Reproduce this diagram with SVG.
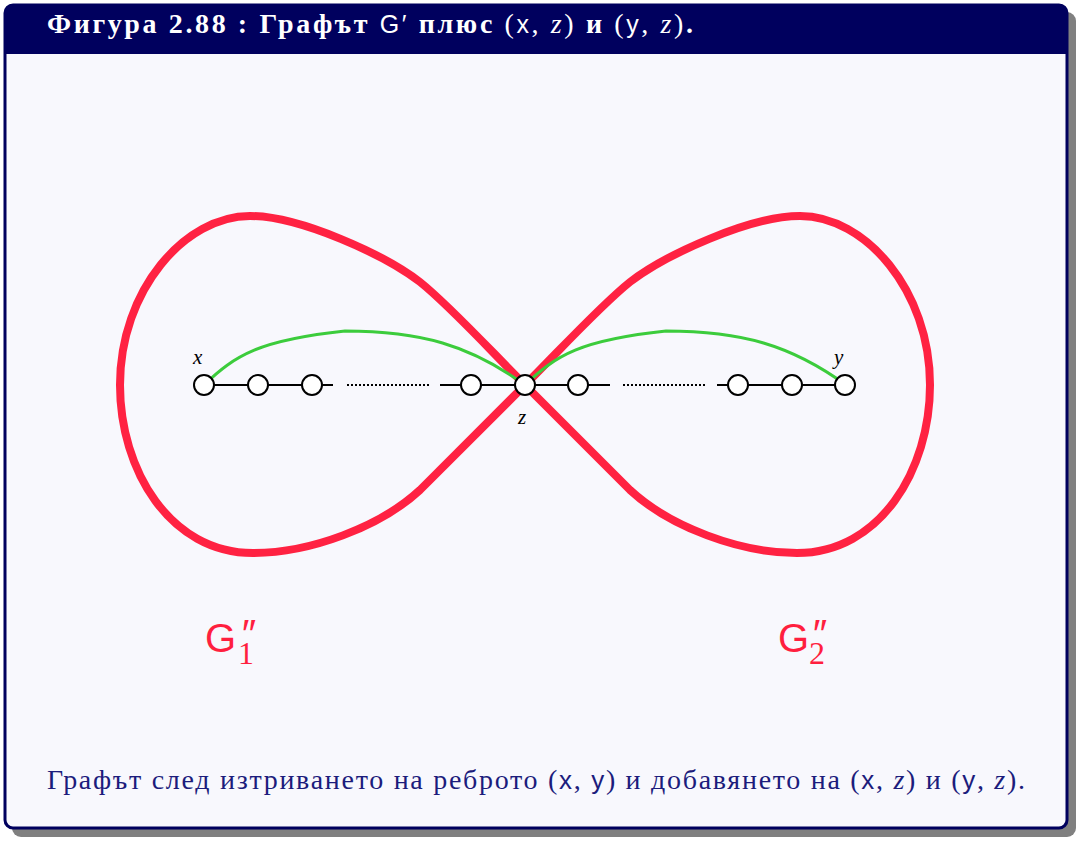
<svg xmlns="http://www.w3.org/2000/svg" width="1080" height="841" viewBox="0 0 1080 841">
<style>
.frame{fill:#f8f8fd;stroke:#00005e;stroke-width:3}
.red{fill:none;stroke:#ff2242;stroke-width:8;stroke-linejoin:round}
.green{fill:none;stroke:#3ccc3c;stroke-width:3}
.edge{stroke:#000;stroke-width:2;fill:none}
.dots{stroke:#000;stroke-width:2;stroke-dasharray:2,2;fill:none}
.node{fill:#fff;stroke:#000;stroke-width:2}
.lab{font-family:"Liberation Serif",serif;font-style:italic;font-size:21px;fill:#000}
.title{font-family:"Liberation Serif",serif;font-weight:bold;font-size:28px;fill:#fff}
.cap{font-family:"Liberation Serif",serif;font-size:28px;fill:#1c1c7c}
.gl{font-family:"Liberation Sans",sans-serif;font-size:40px;fill:#ff1f3f}
</style>
<rect x="12" y="12" width="1064" height="825" rx="9" fill="#808080"/>
<rect class="frame" x="5" y="5" width="1062" height="823" rx="8"/>
<path d="M5,54 V13 a8,8 0 0 1 8,-8 H1059 a8,8 0 0 1 8,8 V54 Z" fill="#00005e"/>
<text class="title" x="47" y="33" textLength="646" lengthAdjust="spacing">Фигура 2.88 : Графът <tspan font-family="Liberation Sans,sans-serif" font-weight="normal" font-size="25">G′</tspan> плюс <tspan font-weight="normal">(</tspan><tspan font-family="Liberation Sans,sans-serif" font-weight="normal" font-size="25">x</tspan><tspan font-weight="normal">, </tspan><tspan font-weight="normal" font-style="italic">z</tspan><tspan font-weight="normal">)</tspan> и <tspan font-weight="normal">(</tspan><tspan font-family="Liberation Sans,sans-serif" font-weight="normal" font-size="25">y</tspan><tspan font-weight="normal">, </tspan><tspan font-weight="normal" font-style="italic">z</tspan><tspan font-weight="normal">)</tspan>.</text>

<g id="connectors">
<g id="lobes">
<path id="lobe1" class="red" d="M525,385 C490,350 450,306 420,282 C385,255 300,216 250,216 C185,216 120,290 120,385 C120,470 170,553 253,553 C310,553 380,527 420,490 L525,385"/>
<use href="#lobe1" transform="translate(1050,0) scale(-1,1)"/>
</g>
<path id="gx" class="green" d="M204,385 C235,355 260,340 345,331 C420,331 470,345 525,385"/>
<use href="#gx" transform="translate(321,0)"/>
<path class="edge" d="M204,385 H333 M440,385 H610 M717,385 H845"/>
<path class="dots" d="M347,385 H429 M623,385 H707"/>
</g>

<g id="n1"><circle class="node" cx="204" cy="385" r="10"/><text class="lab" x="193" y="364">x</text></g>
<g id="n2"><circle class="node" cx="258" cy="385" r="10"/></g>
<g id="n3"><circle class="node" cx="312" cy="385" r="10"/></g>
<g id="n4"><circle class="node" cx="471" cy="385" r="10"/></g>
<g id="nz"><circle class="node" cx="525" cy="385" r="10"/><text class="lab" x="518" y="424">z</text></g>
<g id="n6"><circle class="node" cx="578" cy="385" r="10"/></g>
<g id="n7"><circle class="node" cx="738" cy="385" r="10"/></g>
<g id="n8"><circle class="node" cx="792" cy="385" r="10"/></g>
<g id="ny"><circle class="node" cx="845" cy="385" r="10"/><text class="lab" x="834" y="364">y</text></g>

<g id="g1"><text class="gl" x="205" y="652">G<tspan x="240" y="648" font-size="40" font-style="italic">″</tspan><tspan x="238" y="664" font-family="Liberation Serif,serif" font-size="32">1</tspan></text></g>
<g id="g2"><text class="gl" x="778" y="652">G<tspan x="811" y="648" font-size="40" font-style="italic">″</tspan><tspan x="809" y="664" font-family="Liberation Serif,serif" font-size="32">2</tspan></text></g>

<text class="cap" x="47" y="789" textLength="978" lengthAdjust="spacing">Графът след изтриването на реброто (<tspan font-family="Liberation Sans,sans-serif" font-size="26">x</tspan>, <tspan font-family="Liberation Sans,sans-serif" font-size="26">y</tspan>) и добавянето на (<tspan font-family="Liberation Sans,sans-serif" font-size="26">x</tspan>, <tspan font-style="italic">z</tspan>) и (<tspan font-family="Liberation Sans,sans-serif" font-size="26">y</tspan>, <tspan font-style="italic">z</tspan>).</text>
</svg>
